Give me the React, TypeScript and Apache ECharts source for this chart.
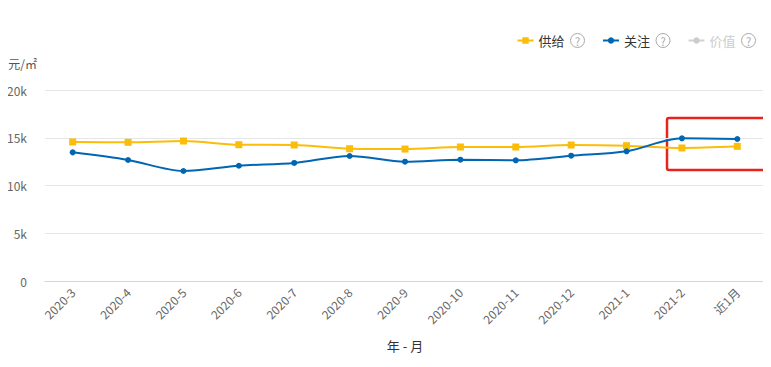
import React, { useEffect, useRef } from "react";
import * as echarts from "echarts";

const categories = ["2020-3", "2020-4", "2020-5", "2020-6", "2020-7", "2020-8", "2020-9", "2020-10", "2020-11", "2020-12", "2021-1", "2021-2", "近1月"];
const supply = [14560, 14520, 14660, 14270, 14240, 13850, 13820, 14030, 14030, 14240, 14170, 13930, 14100];
const attention = [13470, 12670, 11520, 12070, 12360, 13090, 12490, 12700, 12640, 13120, 13580, 14940, 14870];
const value: number[] = [];
const yTicks = { min: 0, max: 20000, interval: 5000 };

const FONT = "'Noto Sans CJK SC', 'Microsoft YaHei', sans-serif";

export default function App() {
  const ref = useRef<HTMLDivElement>(null);
  useEffect(() => {
    const chart = echarts.init(ref.current!, null, { renderer: "svg" });
    chart.setOption({
      animation: false,
      textStyle: { fontFamily: FONT },
      legend: {
        right: 10,
        top: 28,
        itemGap: 17,
        itemWidth: 16,
        itemHeight: 8,
        data: ["供给", "关注", "价值"],
        selected: { 价值: false },
        inactiveColor: "#ccc",
        formatter: (n: string) => `${n}{g|}{q|?}`,
        textStyle: {
          fontSize: 13,
          color: "#333",
          fontFamily: FONT,
          rich: {
            g: { width: 6 },
            q: {
              color: "#aaa",
              borderColor: "#aaa",
              borderWidth: 1,
              borderRadius: 8,
              width: 14,
              height: 14,
              lineHeight: 14,
              align: "center",
              fontSize: 11,
            },
          },
        },
      },
      grid: { left: 45, right: 6, top: 90, bottom: 86, containLabel: false },
      xAxis: {
        type: "category",
        data: categories,
        boundaryGap: true,
        name: "年 - 月",
        nameLocation: "middle",
        nameGap: 58,
        nameTextStyle: { color: "#333", fontSize: 13 },
        axisLine: { lineStyle: { color: "#ccd6eb" } },
        axisTick: { length: 8, lineStyle: { color: "#ccd6eb" } },
        axisLabel: { rotate: 45, color: "#666", fontSize: 12, margin: 9, interval: 0 },
      },
      yAxis: {
        type: "value",
        min: yTicks.min,
        max: yTicks.max,
        interval: yTicks.interval,
        name: "元/㎡",
        nameGap: 21,
        nameTextStyle: { color: "#555", fontSize: 12, align: "right", padding: [0, 8, 0, 0] },
        axisLine: { show: false },
        axisTick: { show: false },
        splitLine: { lineStyle: { color: "#e6e6e6" } },
        axisLabel: {
          color: "#666",
          fontSize: 12,
          margin: 18,
          formatter: (v: number) => (v === 0 ? "0" : v / 1000 + "k"),
        },
      },
      series: [
        {
          name: "供给",
          type: "line",
          data: supply,
          smooth: 0.3,
          symbol: "rect",
          symbolSize: 7,
          itemStyle: { color: "#fbbd0a" },
          lineStyle: { width: 2, color: "#fbbd0a" },
        },
        {
          name: "关注",
          type: "line",
          data: attention,
          smooth: 0.3,
          symbol: "circle",
          symbolSize: 6,
          itemStyle: { color: "#0066b3" },
          lineStyle: { width: 2, color: "#0066b3" },
        },
        {
          name: "价值",
          type: "line",
          data: value,
          smooth: 0.3,
          symbol: "circle",
          symbolSize: 6,
          itemStyle: { color: "#ccc" },
          lineStyle: { width: 2, color: "#ccc" },
        },
      ],
      graphic: [
        {
          type: "rect",
          shape: { x: 667, y: 118, width: 101, height: 52, r: 2 },
          style: { fill: "none", stroke: "#e8231c", lineWidth: 2.5 },
        },
      ],
    });
    return () => chart.dispose();
  }, []);
  return <div ref={ref} style={{ width: 771, height: 367, margin: -8 }} />;
}
